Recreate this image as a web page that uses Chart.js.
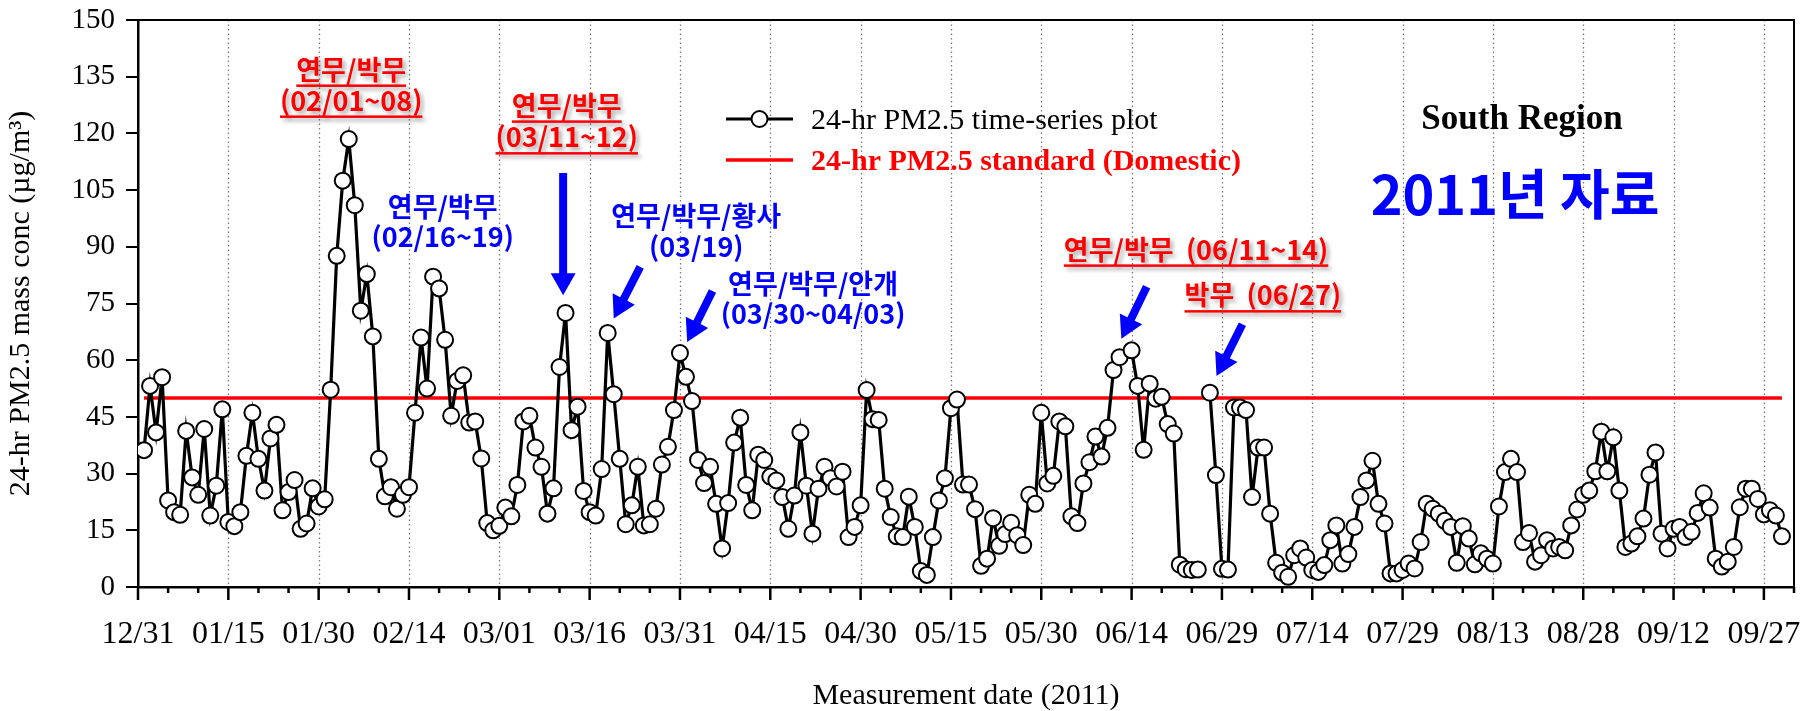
<!DOCTYPE html>
<html>
<head>
<meta charset="utf-8">
<script src="https://cdn.jsdelivr.net/npm/chart.js@4.4.0/dist/chart.umd.min.js"></script>
<style>
  html, body { margin: 0; padding: 0; background: #fff; }
  #wrap { width: 1804px; height: 711px; }
</style>
</head>
<body>
<div id="wrap"><canvas id="pmChart" width="1804" height="711"></canvas></div>
<script>
// South Region, 24-hr PM2.5 (ug/m3), one value per day from 01/01/2011
// x = days after 12/31/2010, null = no measurement
const firstDay = 1;
const pm25 = [
  36.2, 53.2, 40.9, 55.5, 22.9, 19.8, 19.1, 41.3, 29.0, 24.4,
  41.8, 18.9, 26.8, 47.0, 17.2, 16.1, 19.8, 34.7, 46.1, 33.9,
  25.5, 39.3, 42.9, 20.3, 25.1, 28.3, 15.4, 16.8, 26.1, 21.3,
  23.2, 52.2, 87.6, 107.5, 118.5, 101.0, 73.1, 82.8, 66.3, 33.9,
  24.0, 26.4, 20.7, 24.4, 26.4, 46.1, 66.0, 52.5, 82.1, 79.0,
  65.4, 45.3, 54.5, 56.0, 43.5, 43.8, 34.0, 16.9, 15.0, 16.2,
  21.0, 18.7, 27.0, 43.8, 45.3, 36.9, 31.8, 19.4, 26.1, 58.2,
  72.5, 41.5, 47.7, 25.4, 19.8, 18.9, 31.2, 67.2, 51.0, 33.9,
  16.6, 21.6, 31.8, 16.3, 16.6, 20.7, 32.4, 37.1, 46.8, 61.9,
  55.6, 49.2, 33.6, 27.5, 31.8, 22.0, 10.2, 22.2, 38.2, 44.8,
  27.0, 20.3, 35.0, 33.6, 29.2, 28.2, 23.8, 15.4, 24.2, 40.9,
  26.8, 14.1, 26.0, 31.8, 28.8, 26.6, 30.5, 13.2, 15.9, 21.6,
  52.1, 44.4, 44.2, 26.0, 18.5, 13.4, 13.2, 23.9, 15.9, 4.2,
  3.2, 13.2, 22.9, 28.8, 47.3, 49.6, 27.1, 27.1, 20.6, 5.6,
  7.5, 18.2, 10.9, 14.0, 17.0, 13.7, 11.1, 24.4, 22.0, 46.1,
  27.4, 29.4, 43.8, 42.5, 18.7, 16.9, 27.4, 33.0, 39.8, 34.5,
  42.1, 57.4, 60.8, null, 62.6, 53.2, 36.3, 53.8, 49.8, 50.3,
  43.1, 40.6, 5.9, 4.7, 4.5, 4.6, null, 51.4, 29.6, 4.8,
  4.6, 47.5, 47.5, 46.8, 23.8, 36.9, 36.9, 19.4, 6.4, 3.8,
  2.7, 8.4, 10.2, 7.8, 4.5, 4.0, 5.8, 12.4, 16.3, 6.2,
  8.7, 15.9, 23.8, 28.2, 33.4, 22.0, 16.8, 3.6, 3.6, 4.5,
  6.2, 4.9, 11.9, 22.0, 20.7, 19.4, 17.5, 15.9, 6.4, 16.1,
  12.8, 6.0, 8.9, 7.5, 6.2, 21.3, 30.4, 33.9, 30.4, 11.9,
  14.3, 6.7, 8.4, 12.4, 10.2, 10.6, 9.7, 16.3, 20.5, 24.4,
  25.5, 30.6, 41.1, 30.6, 39.6, 25.5, 10.6, 11.5, 13.4, 18.1,
  29.7, 35.6, 14.1, 10.2, 15.4, 15.9, 13.2, 14.6, 19.6, 24.8,
  21.0, 7.5, 5.4, 6.7, 10.6, 21.1, 26.0, 26.0, 23.3, 19.2,
  20.3, 18.9, 13.4
];

// domestic 24-hr standard
const standardDays = [1, 273];
const standardValues = [50, 50];

const xTickDays = [0, 15, 30, 45, 60, 75, 90, 105, 120, 135, 150, 165, 180, 195, 210, 225, 240, 255, 270];
const xTickLabels = ['12/31', '01/15', '01/30', '02/14', '03/01', '03/16', '03/31', '04/15', '04/30',
  '05/15', '05/30', '06/14', '06/29', '07/14', '07/29', '08/13', '08/28', '09/12', '09/27'];
const yTickValues = [0, 15, 30, 45, 60, 75, 90, 105, 120, 135, 150];

// event labels, placed in data units (x = day, y = value)
const notes = [
  { lines: ['연무/박무', '(02/01~08)'], x: 35.4, y: [135.6, 127.4], color: '#ff0000', mark: true },
  { lines: ['연무/박무', '(03/11~12)'], x: 71.2, y: [126.1, 117.7], color: '#ff0000', mark: true },
  { lines: ['연무/박무', '(02/16~19)'], x: 50.6, y: [99.2, 91.3], color: '#0000ff', mark: false },
  { lines: ['연무/박무/황사', '(03/19)'], x: 92.7, y: [97.0, 88.6], color: '#0000ff', mark: false },
  { lines: ['연무/박무/안개', '(03/30~04/03)'], x: 112.1, y: [79.0, 71.0], color: '#0000ff', mark: false },
  { lines: ['연무/박무  (06/11~14)'], x: 175.7, y: [88.0], color: '#ff0000', mark: true },
  { lines: ['박무  (06/27)'], x: 186.8, y: [75.9], color: '#ff0000', mark: true }
];
const arrows = [
  { from: [70.6, 109.5], to: [70.6, 77.2] },
  { from: [83.4, 84.7], to: [79.0, 71.0] },
  { from: [95.4, 78.3], to: [91.2, 64.8] },
  { from: [167.5, 79.4], to: [163.3, 65.7] },
  { from: [183.4, 69.5], to: [179.1, 55.8] }
];

const serif = "'Liberation Serif', 'Times New Roman', serif";
const korean = "'Noto Sans CJK KR', 'Noto Sans', sans-serif";

const pmPoints = pm25.map((v, i) => ({ x: firstDay + i, y: v }));
const standardPoints = standardDays.map((d, i) => ({ x: d, y: standardValues[i] }));

function drawArrow(ctx, x0, y0, x1, y1) {
  const len = Math.hypot(x1 - x0, y1 - y0);
  const ux = (x1 - x0) / len, uy = (y1 - y0) / len;
  const nx = -uy, ny = ux;
  const shaft = 4, head = 12.5, headLen = 22;
  const bx = x1 - ux * headLen, by = y1 - uy * headLen;
  ctx.beginPath();
  ctx.moveTo(x0 + nx * shaft, y0 + ny * shaft);
  ctx.lineTo(bx + nx * shaft, by + ny * shaft);
  ctx.lineTo(bx + nx * head, by + ny * head);
  ctx.lineTo(x1, y1);
  ctx.lineTo(bx - nx * head, by - ny * head);
  ctx.lineTo(bx - nx * shaft, by - ny * shaft);
  ctx.lineTo(x0 - nx * shaft, y0 - ny * shaft);
  ctx.closePath();
  ctx.fill();
}

function drawNote(ctx, text, cx, cy, color, mark) {
  ctx.save();
  ctx.font = "bold 27px " + korean;
  ctx.textAlign = 'center';
  ctx.textBaseline = 'middle';
  ctx.fillStyle = color;
  if (mark) {
    ctx.shadowColor = 'rgba(0,0,0,0.35)';
    ctx.shadowBlur = 4;
    ctx.shadowOffsetX = 3;
    ctx.shadowOffsetY = 3;
  }
  const ty = cy - 5;
  ctx.fillText(text, cx, ty);
  if (mark) {
    const w = ctx.measureText(text).width;
    ctx.fillRect(cx - w / 2, ty + 15, w, 2.5);
  }
  ctx.restore();
}

// dotted grid, x tick marks (major 15 d, minor 5 d), top/right frame
const framePlugin = {
  id: 'frame',
  beforeDatasetsDraw(chart) {
    const { ctx, chartArea: a, scales: { x } } = chart;
    ctx.save();
    ctx.strokeStyle = '#7a7a7a';
    ctx.lineWidth = 1.3;
    ctx.setLineDash([1.5, 3]);
    xTickDays.forEach(d => {
      if (d === 0) return;
      const px = Math.round(x.getPixelForValue(d)) + 0.5;
      ctx.beginPath();
      ctx.moveTo(px, a.top);
      ctx.lineTo(px, a.bottom);
      ctx.stroke();
    });
    ctx.setLineDash([]);
    ctx.strokeStyle = '#000';
    ctx.lineWidth = 2.5;
    for (let d = 0; d <= x.max; d += 5) {
      const px = x.getPixelForValue(d);
      const len = d % 15 === 0 ? 13 : 6;
      ctx.beginPath();
      ctx.moveTo(px, a.bottom);
      ctx.lineTo(px, a.bottom + len);
      ctx.stroke();
    }
    ctx.lineWidth = 2;
    ctx.beginPath();
    ctx.moveTo(a.left, a.top);
    ctx.lineTo(a.right, a.top);
    ctx.lineTo(a.right, a.bottom);
    ctx.stroke();
    ctx.restore();
  }
};

const notesPlugin = {
  id: 'notes',
  afterDatasetsDraw(chart) {
    const { ctx, scales: { x, y } } = chart;
    ctx.save();
    ctx.fillStyle = '#0000ff';
    arrows.forEach(ar => drawArrow(ctx,
      x.getPixelForValue(ar.from[0]), y.getPixelForValue(ar.from[1]),
      x.getPixelForValue(ar.to[0]), y.getPixelForValue(ar.to[1])));
    notes.forEach(n => n.lines.forEach((t, i) =>
      drawNote(ctx, t, x.getPixelForValue(n.x), y.getPixelForValue(n.y[i]), n.color, n.mark)));

    // legend
    const ds = chart.data.datasets;
    const lx0 = 726, lx1 = 793, tx = 811, row1 = 119, row2 = 160;
    ctx.lineWidth = ds[0].borderWidth;
    ctx.strokeStyle = ds[0].borderColor;
    ctx.beginPath(); ctx.moveTo(lx0, row1); ctx.lineTo(lx1, row1); ctx.stroke();
    ctx.beginPath(); ctx.arc((lx0 + lx1) / 2, row1, ds[0].pointRadius, 0, Math.PI * 2);
    ctx.fillStyle = '#fff'; ctx.fill();
    ctx.lineWidth = ds[0].pointBorderWidth; ctx.stroke();
    ctx.lineWidth = ds[1].borderWidth;
    ctx.strokeStyle = ds[1].borderColor;
    ctx.beginPath(); ctx.moveTo(lx0, row2); ctx.lineTo(lx1, row2); ctx.stroke();
    ctx.textAlign = 'left';
    ctx.textBaseline = 'middle';
    ctx.fillStyle = '#000';
    ctx.font = "30px " + serif;
    ctx.fillText(ds[0].label, tx, row1 + 2);
    ctx.fillStyle = '#ff0000';
    ctx.font = "bold 30px " + serif;
    ctx.fillText(ds[1].label, tx, row2 + 2);

    // region headings
    ctx.textAlign = 'center';
    ctx.fillStyle = '#000';
    ctx.font = "bold 35px " + serif;
    ctx.fillText('South Region', 1522, 120);
    ctx.fillStyle = '#0000ff';
    ctx.font = "bold 54px " + korean;
    ctx.fillText('2011년 자료', 1515, 194);
    ctx.restore();
  }
};

new Chart(document.getElementById('pmChart'), {
  type: 'line',
  data: {
    datasets: [
      {
        label: '24-hr PM2.5 time-series plot',
        data: pmPoints,
        borderColor: '#000',
        borderWidth: 3.2,
        pointRadius: 8,
        pointBorderWidth: 2,
        pointBackgroundColor: '#fff',
        pointBorderColor: '#000',
        tension: 0,
        spanGaps: false,
        order: 0
      },
      {
        label: '24-hr PM2.5 standard (Domestic)',
        data: standardPoints,
        borderColor: '#ff0000',
        borderWidth: 3.5,
        pointRadius: 0,
        order: 1
      }
    ]
  },
  options: {
    responsive: false,
    animation: false,
    devicePixelRatio: 1,
    layout: { padding: { left: 0, right: 10, top: 20, bottom: 0 } },
    plugins: { legend: { display: false }, tooltip: { enabled: false } },
    scales: {
      x: {
        type: 'linear',
        min: 0,
        max: 275,
        afterBuildTicks: s => { s.ticks = xTickDays.map(v => ({ value: v })); },
        afterFit: s => { s.height = 124; s.paddingLeft = 0; s.paddingRight = 0; },
        ticks: {
          callback: v => xTickLabels[xTickDays.indexOf(v)],
          font: { family: serif, size: 32, lineHeight: 1 },
          color: '#000',
          padding: 32,
          maxRotation: 0,
          autoSkip: false
        },
        grid: { display: false, drawTicks: false },
        border: { display: true, color: '#000', width: 2.5 },
        title: {
          display: true,
          text: 'Measurement date (2011)',
          font: { family: serif, size: 30, lineHeight: 1 },
          color: '#000',
          padding: { top: 0, bottom: 0 }
        }
      },
      y: {
        min: 0,
        max: 150,
        afterBuildTicks: s => { s.ticks = yTickValues.map(v => ({ value: v })); },
        afterFit: s => { s.width = 138; s.paddingTop = 0; s.paddingBottom = 0; },
        ticks: {
          font: { family: serif, size: 29 },
          color: '#000',
          padding: 11
        },
        grid: { display: true, drawOnChartArea: false, drawTicks: true, tickLength: 12, color: '#000', lineWidth: 2 },
        border: { display: true, color: '#000', width: 2.5 },
        title: {
          display: true,
          text: '24-hr PM2.5 mass conc (µg/m³)',
          font: { family: serif, size: 30, lineHeight: 1 },
          color: '#000',
          padding: { top: 6, bottom: 0 }
        }
      }
    }
  },
  plugins: [framePlugin, notesPlugin]
});
</script>
</body>
</html>
